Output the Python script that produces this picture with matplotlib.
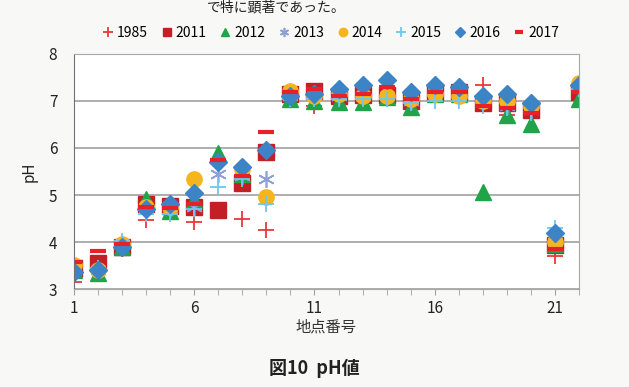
import numpy as np
import matplotlib.pyplot as plt

plt.rcParams['font.family'] = ['Noto Sans CJK JP', 'DejaVu Sans']

nan = np.nan
sites = np.arange(1, 23)

# pH by survey year (nan = not plotted / not visible)
ph_1985 = [3.15, nan, 3.85, 4.47, nan, 4.42, nan, 4.5, 4.25, nan, 6.9, nan, nan, nan, nan, nan, nan, 7.35, 6.7, nan, 3.7, nan]
ph_2011 = [3.45, 3.55, 3.9, 4.8, 4.77, 4.75, 4.68, 5.25, 5.92, 7.15, 7.22, 7.1, 7.13, 7.12, 7.0, 7.2, 7.2, 6.95, 6.95, 6.8, 3.93, 7.2]
ph_2012 = [3.4, 3.35, 3.9, 4.92, 4.65, 4.9, 5.9, 5.45, nan, 7.05, 7.0, 6.97, 6.98, 7.08, 6.87, 7.15, 7.15, 5.07, 6.7, 6.5, 3.95, 7.05]
ph_2013 = [3.4, 3.4, 3.95, 4.7, 4.7, 4.75, 5.45, 5.4, 5.35, 7.1, 7.1, 7.1, 7.1, 7.1, 7.0, 7.2, 7.15, 7.0, 6.9, 6.8, 4.0, 7.3]
ph_2014 = [3.52, 3.4, 3.95, 4.75, 4.75, 5.35, nan, 5.55, 4.95, 7.22, 7.1, 7.15, 7.1, 7.1, 7.05, 7.15, 7.1, 7.0, 7.0, 6.9, 4.0, 7.38]
ph_2015 = [3.6, 3.45, 4.02, 4.6, 4.6, 4.7, 5.17, 5.35, 4.8, 7.05, 7.05, 7.05, 7.05, 7.05, 6.95, 7.0, 7.0, 6.9, 6.85, 6.75, 4.3, 7.25]
ph_2016 = [3.36, 3.4, 3.9, 4.7, 4.8, 5.05, 5.7, 5.6, 5.95, 7.1, 7.15, 7.25, 7.33, 7.45, 7.2, 7.35, 7.3, 7.1, 7.15, 6.95, 4.2, 7.35]
ph_2017 = [3.57, 3.8, 3.95, 4.75, 4.72, 4.8, 5.75, 5.4, 6.35, 7.2, 7.25, 7.1, 7.15, 7.3, 7.05, 7.2, 7.2, 6.9, 6.85, 6.75, 3.85, 7.2]

years = ['1985', '2011', '2012', '2013', '2014', '2015', '2016', '2017']
series = [ph_1985, ph_2011, ph_2012, ph_2013, ph_2014, ph_2015, ph_2016, ph_2017]
styles = [
    dict(marker='+', color='#e8383a', ms=12, mew=1.3),
    dict(marker='s', color='#c32026', ms=11),
    dict(marker='^', color='#21a34a', ms=11),
    dict(marker=(6, 2, 0), color='#8ea0d8', ms=12, mew=1.2),
    dict(marker='o', color='#f6b41e', ms=11),
    dict(marker='+', color='#6cc8f0', ms=12, mew=1.3),
    dict(marker='D', color='#3d84c6', ms=9.5),
    dict(marker='_', color='#e8202a', ms=11, mew=3),
]

fig = plt.figure(figsize=(6.29, 3.87), dpi=100, facecolor='#f8f8f6')
ax = fig.add_axes([0.1176, 0.2532, 0.8029, 0.6073])
ax.set_facecolor('white')

for yr, vals, st in zip(years, series, styles):
    ax.plot(sites, vals, linestyle='none', label=yr, **st)

ax.set_xlim(1, 22)
ax.set_ylim(3, 8)
ax.set_xticks([1, 6, 11, 16, 21])
ax.set_xticks(sites, minor=True)
ax.set_yticks(np.arange(3, 9))
ax.yaxis.grid(True, color='#a0a0a0', linewidth=1.2)
ax.set_axisbelow(True)
for s in ax.spines.values():
    s.set_color('#a8a8a8')
ax.spines['left'].set_color('#707070')
ax.tick_params(axis='x', which='both', direction='out', length=4, color='#a0a0a0',
               labelsize=11, labelcolor='#222222', pad=4)
ax.tick_params(axis='y', length=0, labelsize=11, labelcolor='#222222', pad=12)

ax.set_xlabel('地点番号', fontsize=11, color='#333333', labelpad=1)
ax.set_ylabel('pH', fontsize=11, color='#222222', labelpad=8)

fig.legend(loc='center', bbox_to_anchor=(0.525, 0.915), ncol=8, frameon=False,
           fontsize=10, handlelength=0.9, handletextpad=0.2, columnspacing=0.9,
           markerscale=0.55)

fig.text(0.5, 0.048, '図10  pH値', ha='center', va='center', fontsize=13,
         fontweight='bold', color='#222222')
fig.text(0.55, 0.998, 'で特に顕著であった。', ha='right', va='top', fontsize=10,
         color='#222222')

fig.savefig('out.png', dpi=100, facecolor=fig.get_facecolor())
